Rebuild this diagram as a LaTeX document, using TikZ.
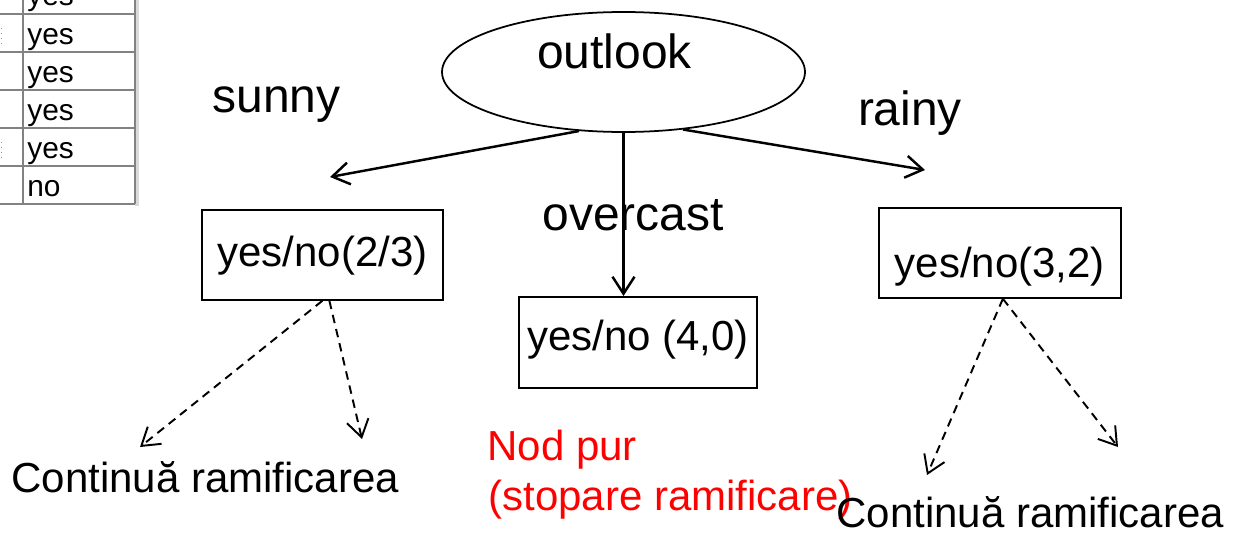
\documentclass[tikz,border=0pt]{standalone}
\usepackage{fontspec}
\setmainfont{Liberation Sans}
\usepackage{tikz}
\usetikzlibrary{positioning, arrows.meta, shapes}
\definecolor{gridgray}{RGB}{130,130,130}
\definecolor{shadegray}{RGB}{218,218,218}
\definecolor{dotblue}{RGB}{110,150,220}
\definecolor{purred}{RGB}{255,0,0}

\begin{document}
\begin{tikzpicture}[
    % GLOBAL CFG
    >={Straight Barb[length=3.4mm,width=4.4mm]},
    % Styles
    root/.style={% the ellipse on top
        ellipse,
        draw,
        line width=1pt,
        inner sep=0pt,
        minimum width=7.26cm,
        minimum height=2.4cm,
        font=\fontsize{27.3}{32}\selectfont,
        text height=0.7cm,
        text depth=0.86cm,
        },
    leaf/.style={% boxes with the yes/no counts
        rectangle,
        draw,
        line width=1pt,
        inner sep=0pt,
        anchor=north west,
        font=\fontsize{23.9}{28.5}\selectfont,
        },
    branch/.style={% labels of the edges
        inner sep=0pt,
        anchor=base,
        font=\fontsize{27.3}{32}\selectfont,
        },
    note/.style={% text under the tree
        inner sep=0pt,
        anchor=base west,
        font=\fontsize{23.9}{28.5}\selectfont,
        },
    cell/.style={% text in the table
        inner sep=0pt,
        anchor=base west,
        font=\fontsize{17}{20}\selectfont,
        },
    TableLine/.style={% grid of the table
        gridgray,
        line width=1.1pt,
        },
    ArrowS/.style={% solid edges
        ->,
        line width=1.4pt,
        },
    ArrowD/.style={% dashed edges
        ->,
        line width=1.1pt,
        dash pattern=on 1.7mm off 1.2mm,
        },
    ]

    \useasboundingbox (0,0) rectangle (24.68,10.64);
    \clip (0,0) rectangle (24.68,10.64);

    % Piece of the table
    \fill [shadegray] (2.70,10.64) rectangle (2.78,6.52);
    \foreach \y in {10.36,9.60,8.84,8.08,7.32,6.56}
        \draw [TableLine] (0,\y) -- (2.70,\y);
    \draw [TableLine] (0.46,10.64) -- (0.46,6.56);
    \draw [TableLine] (2.70,10.64) -- (2.70,6.56);
    \draw [dotblue, line width=0.8pt, dotted] (0.03,10.08) -- (0.03,9.78);
    \draw [dotblue, line width=0.8pt, dotted] (0.03,7.80) -- (0.03,7.50);

    \node [cell] (cell1) at (0.54,10.52) {yes};
    \node [cell] (cell2) at (0.54,9.76) {yes};
    \node [cell] (cell3) at (0.54,9.00) {yes};
    \node [cell] (cell4) at (0.54,8.24) {yes};
    \node [cell] (cell5) at (0.54,7.48) {yes};
    \node [cell] (cell6) at (0.54,6.72) {no};

    % Root and leaves
    \node [root] (outlook) at (12.47,9.20) {outlook\hspace*{0.36cm}};
    \node [leaf, minimum width=4.82cm, text height=1.14cm, text depth=0.66cm] (box23) at (4.02,6.46) {yes/no(2/3)};
    \node [leaf, minimum width=4.76cm, text height=1.08cm, text depth=0.74cm] (box40) at (10.36,4.72) {yes/no (4,0)};
    \node [leaf, minimum width=4.84cm, text height=1.40cm, text depth=0.40cm] (box32) at (17.56,6.50) {yes/no(3,2)};

    % Edge labels
    \node [branch] (sunny) at (5.53,8.40) {sunny};
    \node [branch] (overcast) at (12.66,6.04) {overcast};
    \node [branch] (rainy) at (18.20,8.14) {rainy};

    % Free ends of the arrows
    \coordinate (sunnyend) at (6.60,7.10);
    \coordinate (rainyend) at (18.50,7.24);
    \coordinate (leftA) at (2.80,1.70);
    \coordinate (leftB) at (7.24,1.86);
    \coordinate (rightA) at (18.54,1.14);
    \coordinate (rightB) at (22.36,1.70);

    % Edges
    \draw [ArrowS] (outlook.233) -- (sunnyend);
    \draw [ArrowS] (outlook.316) -- (rainyend);
    \draw [ArrowS] (outlook.south) -- (outlook.south |- box40.north);

    \draw [ArrowD] (box23.south) -- (leftA);
    \draw [ArrowD] ([xshift=1.4mm]box23.south) -- (leftB);
    \draw [ArrowD] ([xshift=0.6mm]box32.south) -- (rightA);
    \draw [ArrowD] ([xshift=0.6mm]box32.south) -- (rightB);

    % Notes
    \node [note] (contleft) at (0.22,0.80) {Continuă ramificarea};
    \node [note, purred] (nodpur) at (9.74,1.44) {Nod pur};
    \node [note, purred] (stopare) at (9.76,0.44) {(stopare ramificare)};
    \node [note] (contright) at (16.72,0.10) {Continuă ramificarea};

\end{tikzpicture}
\end{document}
